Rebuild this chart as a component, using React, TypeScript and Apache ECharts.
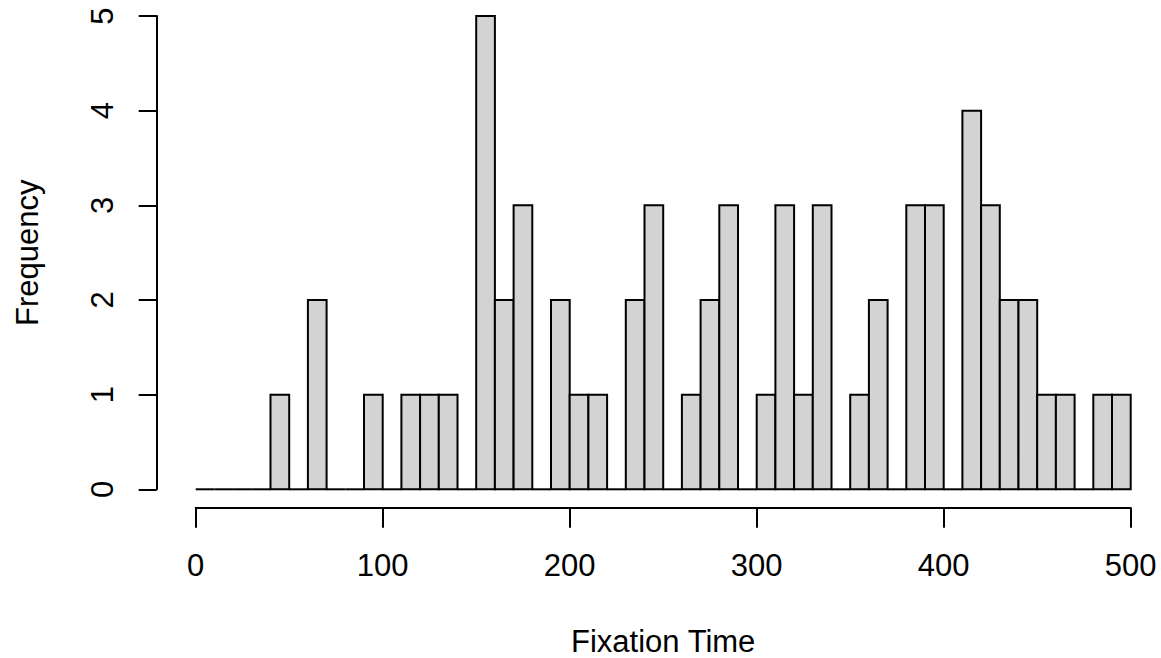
import React, { useEffect, useRef } from "react";
import * as echarts from "echarts";

const binEdges = [0, 10, 20, 30, 40, 50, 60, 70, 80, 90, 100, 110, 120, 130, 140, 150, 160, 170, 180, 190, 200, 210, 220, 230, 240, 250, 260, 270, 280, 290, 300, 310, 320, 330, 340, 350, 360, 370, 380, 390, 400, 410, 420, 430, 440, 450, 460, 470, 480, 490, 500];
const counts = [0, 0, 0, 0, 1, 0, 2, 0, 0, 1, 0, 1, 1, 1, 0, 5, 2, 3, 0, 2, 1, 1, 0, 2, 3, 0, 1, 2, 3, 0, 1, 3, 1, 3, 0, 1, 2, 0, 3, 3, 0, 4, 3, 2, 2, 1, 1, 0, 1, 1];
const xTicks = [0, 100, 200, 300, 400, 500];
const yTicks = [0, 1, 2, 3, 4, 5];
const xTitle = "Fixation Time";
const yTitle = "Frequency";

const FONT = "'Liberation Sans', Arial, Helvetica, sans-serif";
const FS = 31;

export default function App() {
  const ref = useRef<HTMLDivElement>(null);
  useEffect(() => {
    document.body.style.margin = "0";
    const chart = echarts.init(ref.current!, null, { renderer: "svg" });
    const data = counts.map((c, i) => [binEdges[i], binEdges[i + 1], c]);
    chart.setOption({
      animation: false,
      backgroundColor: "#ffffff",
      grid: {
        left: 195.7,
        right: 30.3,
        top: 16,
        bottom: 168.7,
        containLabel: false,
        outerBoundsMode: "none",
      },
      xAxis: {
        type: "value",
        min: xTicks[0],
        max: xTicks[xTicks.length - 1],
        interval: 100,
        offset: 18.4,
        splitLine: { show: false },
        axisLine: { show: true, onZero: false, lineStyle: { color: "#000", width: 2 } },
        axisTick: { show: true, length: 20, lineStyle: { color: "#000", width: 2 } },
        axisLabel: { color: "#000", fontSize: FS, fontFamily: FONT, margin: 42 },
        name: xTitle,
        nameLocation: "middle",
        nameGap: 134,
        nameTextStyle: {
          color: "#000",
          fontSize: FS,
          fontFamily: FONT,
          verticalAlign: "middle",
          lineHeight: 24,
        },
      },
      yAxis: {
        type: "value",
        min: yTicks[0],
        max: yTicks[yTicks.length - 1],
        interval: 1,
        offset: 39,
        splitLine: { show: false },
        axisLine: { show: true, onZero: false, lineStyle: { color: "#000", width: 2 } },
        axisTick: { show: true, length: 18, lineStyle: { color: "#000", width: 2 } },
        axisLabel: {
          color: "#000",
          fontSize: FS,
          fontFamily: FONT,
          rotate: 90,
          margin: 39,
          align: "center",
          verticalAlign: "bottom",
        },
        name: yTitle,
        nameLocation: "middle",
        nameRotate: 90,
        nameGap: 114,
        nameTextStyle: { color: "#000", fontSize: FS, fontFamily: FONT, verticalAlign: "bottom" },
      },
      series: [
        {
          type: "custom",
          data,
          encode: { x: [0, 1], y: 2 },
          renderItem: (params: any, api: any) => {
            const s = api.value(0);
            const e = api.value(1);
            const c = api.value(2);
            const p0 = api.coord([s, 0]);
            const p1 = api.coord([e, c]);
            if (c === 0) {
              return {
                type: "line",
                shape: { x1: p0[0], y1: p0[1], x2: p1[0], y2: p0[1] },
                style: { stroke: "#000", lineWidth: 2 },
              };
            }
            return {
              type: "rect",
              shape: { x: p0[0], y: p1[1], width: p1[0] - p0[0], height: p0[1] - p1[1] },
              style: { fill: "#D3D3D3", stroke: "#000", lineWidth: 2 },
            };
          },
        },
      ],
    });
    return () => chart.dispose();
  }, []);
  return <div ref={ref} style={{ width: 1161, height: 658 }} />;
}
